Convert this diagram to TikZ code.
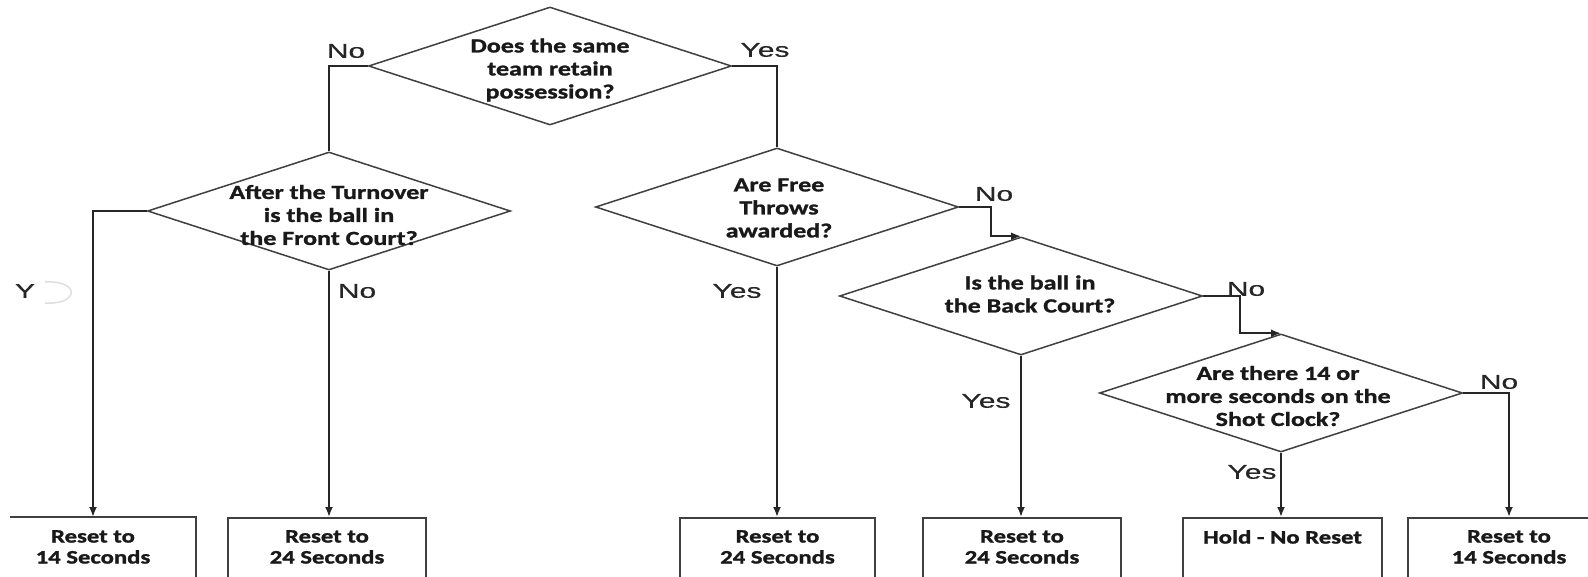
\documentclass[tikz,border=0pt]{standalone}
\usepackage{fontspec}
\setmainfont{Carlito}[FakeStretch=1.3,BoldFeatures={FakeBold=1.3}]
\newfontfamily\lblfont{Liberation Sans}[FakeStretch=1.5,FakeBold=0.4]
\usetikzlibrary{shapes.geometric,arrows.meta}
\begin{document}
\begin{tikzpicture}[x=1pt,y=-1pt,
  line/.style={draw=black!85,line width=1.9pt},
  arr/.style={line,-{Latex[length=10pt,width=8pt]}},
  dia/.style={diamond,draw=black!75,line width=1.5pt,minimum width=363pt,minimum height=118pt,inner sep=0pt},
  qtext/.style={font=\bfseries\fontsize{20}{23}\selectfont,align=center,inner sep=0pt,text=black!90},
  box/.style={rectangle,draw=black!75,line width=1.7pt,minimum height=80pt,anchor=north,inner sep=0pt},
  btext/.style={font=\bfseries\fontsize{19}{21}\selectfont,align=center,inner sep=0pt,anchor=north,text=black!90},
  lbl/.style={font=\lblfont\fontsize{20}{22}\selectfont,inner sep=0pt,text=black!85}
]
\useasboundingbox (0,0) rectangle (1588,577);
\fill[white] (0,0) rectangle (1588,577);

% decisions
\node[dia] (d1) at (550,66) {};
\node[qtext] (t1) at (550,70) {Does the same\\team retain\\possession?};
\node[dia] (d2) at (329,211) {};
\node[qtext] (t2) at (329,215) {After the Turnover\\is the ball in\\the Front Court?};
\node[dia] (d3) at (777,207) {};
\node[qtext] (t3) at (779,208) {Are Free\\Throws\\awarded?};
\node[dia] (d4) at (1021,296) {};
\node[qtext] (t4) at (1030,294) {Is the ball in\\the Back Court?};
\node[dia] (d5) at (1281,393) {};
\node[qtext] (t5) at (1278,396) {Are there 14 or\\more seconds on the\\Shot Clock?};

% outcome boxes
\node[box,draw=none,minimum width=204pt] (b1) at (93,517) {};
\draw[draw=black!75,line width=1.7pt] ([xshift=20pt]b1.north west) -- (b1.north east) -- (b1.south east);
\node[btext] (bt1) at ([yshift=-13pt]b1.north) {Reset to\\14 Seconds};
\node[box,minimum width=198pt] (b2) at (327,517) {};
\node[btext] (bt2) at ([yshift=-13pt]b2.north) {Reset to\\24 Seconds};
\node[box,minimum width=195pt] (b3) at (777.5,517) {};
\node[btext] (bt3) at ([yshift=-13pt]b3.north) {Reset to\\24 Seconds};
\node[box,minimum width=198pt] (b4) at (1022,517) {};
\node[btext] (bt4) at ([yshift=-13pt]b4.north) {Reset to\\24 Seconds};
\node[box,minimum width=199pt] (b5) at (1282.5,517) {};
\node[btext] (bt5) at ([yshift=-13pt]b5.north) {Hold - No Reset};
\node[box,minimum width=202pt] (b6) at (1509,517) {};
\node[btext] (bt6) at ([yshift=-13pt]b6.north) {Reset to\\14 Seconds};

% connectors
\draw[line] (d1.west) -| (d2.north);
\draw[line] (d1.east) -| (d3.north);
\draw[arr] (d2.west) -| (b1.north);
\draw[arr] (d2.south) -- (d2.south |- b2.north);
\draw[arr] (d3.south) -- (d3.south |- b3.north);
\draw[arr] (d3.east) -- ++(32,0) |- (d4.north);
\draw[arr] (d4.east) -- ++(37,0) |- (d5.north);
\draw[arr] (d4.south) -- (d4.south |- b4.north);
\draw[arr] (d5.south) -- (d5.south |- b5.north);
\draw[arr] (d5.east) -| (b6.north);

% labels
\node[lbl] (l1) at (346,51) {No};
\node[lbl] (l2) at (765,50) {Yes};
\node[lbl] (l3) at (25,291) {Y};
\draw[gray!25,line width=1.5pt] (45,282) .. controls (80,280) and (80,305) .. (45,303);
\node[lbl] (l4) at (357,291) {No};
\node[lbl] (l5) at (737,291) {Yes};
\node[lbl] (l6) at (994,194) {No};
\node[lbl] (l7) at (1246,289) {No};
\node[lbl] (l8) at (986,401) {Yes};
\node[lbl] (l9) at (1499,382) {No};
\node[lbl] (l10) at (1252,472) {Yes};
\end{tikzpicture}
\end{document}
